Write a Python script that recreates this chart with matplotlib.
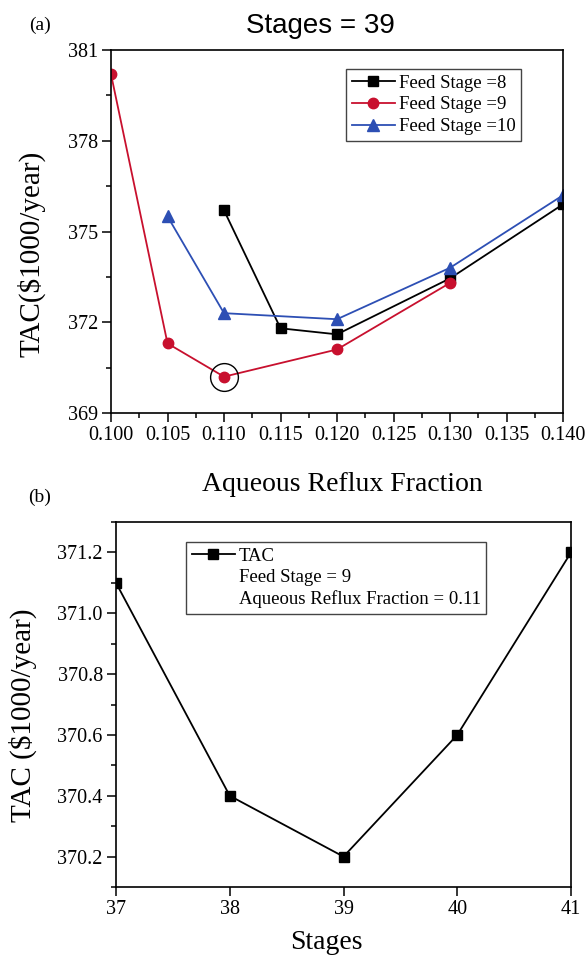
import matplotlib
matplotlib.use("Agg")
import matplotlib.pyplot as plt
from matplotlib.lines import Line2D
from matplotlib.ticker import MultipleLocator, FormatStrFormatter

# ---- data ----
x_fs8 = [0.110, 0.115, 0.120, 0.130, 0.140]
y_fs8 = [375.7, 371.8, 371.6, 373.45, 375.9]
x_fs9 = [0.100, 0.105, 0.110, 0.120, 0.130]
y_fs9 = [380.2, 371.3, 370.2, 371.1, 373.3]
x_fs10 = [0.105, 0.110, 0.120, 0.130, 0.140]
y_fs10 = [375.5, 372.3, 372.1, 373.8, 376.2]
opt_x = [0.110]
opt_y = [370.2]

stages = [37, 38, 39, 40, 41]
tac = [371.1, 370.4, 370.2, 370.6, 371.2]

labels_a = ["Feed Stage =8", "Feed Stage =9", "Feed Stage =10"]
labels_b = ["TAC", "Feed Stage = 9", "Aqueous Reflux Fraction = 0.11"]

SERIF = "Liberation Serif"
RED = "#c8102e"
BLUE = "#2d4fb4"

plt.rcParams["font.family"] = SERIF

fig = plt.figure(figsize=(5.88, 9.6), dpi=100)

def style(ax):
    for s in ax.spines.values():
        s.set_linewidth(1.2)
    ax.tick_params(which="both", direction="out", top=False, right=False,
                   labelsize=14.5, width=1.1)
    ax.tick_params(which="major", length=6.5, pad=3)
    ax.tick_params(which="minor", length=3.5)

# ---- (a) ----
ax1 = fig.add_axes([0.1888, 0.5698, 0.7687, 0.3781])
ax1.plot(x_fs8, y_fs8, "-s", color="black", lw=1.3, ms=7.5, label=labels_a[0])
ax1.plot(x_fs9, y_fs9, "-o", color=RED, lw=1.3, ms=7.5, label=labels_a[1])
ax1.plot(x_fs10, y_fs10, "-^", color=BLUE, lw=1.3, ms=8, label=labels_a[2])
ax1.plot(opt_x, opt_y, "o", ms=20, mfc="none", mec="black", mew=1.0)
ax1.set_xlim(0.100, 0.140)
ax1.set_ylim(369, 381)
ax1.xaxis.set_major_locator(MultipleLocator(0.005))
ax1.xaxis.set_minor_locator(MultipleLocator(0.0025))
ax1.xaxis.set_major_formatter(FormatStrFormatter("%.3f"))
ax1.yaxis.set_major_locator(MultipleLocator(3))
ax1.yaxis.set_minor_locator(MultipleLocator(1.5))
style(ax1)
ax1.set_xlabel("Aqueous Reflux Fraction", fontsize=20, family=SERIF)
ax1.set_ylabel("TAC($1000/year)", fontsize=21, family=SERIF)
ax1.xaxis.set_label_coords(0.511, -0.163)
ax1.yaxis.set_label_coords(-0.145, 0.437)
leg1 = ax1.legend(loc="upper left", bbox_to_anchor=(0.52, 0.948), borderaxespad=0,
                  fontsize=13.5, fancybox=False, edgecolor="#444444", framealpha=1,
                  handlelength=2.3, handletextpad=0.2, labelspacing=0.25, borderpad=0.3)
leg1.get_frame().set_linewidth(1.0)

# ---- (b) ----
ax2 = fig.add_axes([0.1973, 0.0760, 0.7738, 0.3802])
ax2.plot(stages, tac, "-s", color="black", lw=1.3, ms=7.5, label=labels_b[0])
ax2.set_xlim(37, 41)
ax2.set_ylim(370.1, 371.3)
ax2.xaxis.set_major_locator(MultipleLocator(1))
ax2.yaxis.set_major_locator(MultipleLocator(0.2))
ax2.yaxis.set_minor_locator(MultipleLocator(0.1))
ax2.yaxis.set_major_formatter(FormatStrFormatter("%.1f"))
style(ax2)
ax2.set_xlabel("Stages", fontsize=20, family=SERIF)
ax2.set_ylabel("TAC ($1000/year)", fontsize=21, family=SERIF)
ax2.xaxis.set_label_coords(0.462, -0.118)
ax2.yaxis.set_label_coords(-0.173, 0.47)
h_tac = Line2D([], [], color="black", lw=1.3, marker="s", ms=7.5)
h_empty1 = Line2D([], [], linestyle="none")
h_empty2 = Line2D([], [], linestyle="none")
leg2 = ax2.legend([h_tac, h_empty1, h_empty2], labels_b, loc="upper left",
                  bbox_to_anchor=(0.154, 0.945), borderaxespad=0,
                  fontsize=13.5, fancybox=False, edgecolor="#444444", framealpha=1,
                  handlelength=2.3, handletextpad=0.2, labelspacing=0.22, borderpad=0.3)
leg2.get_frame().set_linewidth(1.0)

# ---- figure texts ----
fig.text(320 / 588, 1 - 33 / 960, "Stages = 39", fontsize=20, family="Liberation Sans",
         ha="center", va="baseline")
fig.text(40 / 588, 1 - 30 / 960, "(a)", fontsize=14, family=SERIF, ha="center", va="baseline")
fig.text(40 / 588, 1 - 502 / 960, "(b)", fontsize=14, family=SERIF, ha="center", va="baseline")

fig.savefig("out.png", dpi=100)
